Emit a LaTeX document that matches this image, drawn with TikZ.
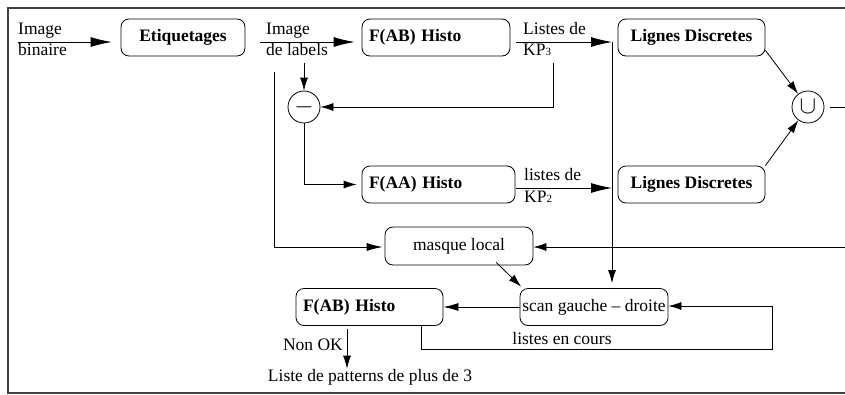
\documentclass[tikz,border=0pt]{standalone}
\usepackage{fontspec}
\setmainfont{Liberation Serif}
\usetikzlibrary{arrows.meta,calc}
\begin{document}
\begin{tikzpicture}[x=1pt,y=-1pt,
  every node/.style={font=\fontsize{17.5}{20}\selectfont},
  box/.style={draw, rounded corners=8pt, minimum height=37pt, inner ysep=0pt, line width=0.8pt},
  bbox/.style={box, font=\fontsize{17.5}{20}\selectfont\bfseries},
  lbox/.style={bbox, text width=#1, inner xsep=7pt, align=left},
  lab/.style={inner sep=0pt},
  circ/.style={draw, circle, minimum size=32pt, inner sep=0pt, line width=0.8pt, font=\fontsize{26}{26}\selectfont},
  line/.style={line width=0.8pt},
  arr/.style={line, -{Latex[length=13pt,width=8pt]}},
  bigarr/.style={line, -{Latex[length=21pt,width=10pt]}}
]
\useasboundingbox (0,0) rectangle (845,394);
\clip (0,0) rectangle (845,394);
\draw[black!75, line width=1.1pt] (8,8) rectangle (880,393);

% boxes
\node[bbox, minimum width=124pt] (etiq) at (183,37.5) {Etiquetages};
\node[lbox=134pt] (fab1) at (436,37.5) {F(AB) Histo};
\node[bbox, minimum width=147pt] (lig1) at (691.5,37.5) {Lignes Discretes};
\node[lbox=139pt] (faa) at (438.5,184.5) {F(AA) Histo};
\node[bbox, minimum width=147pt] (lig2) at (691.5,184.5) {Lignes Discretes};
\node[box, minimum width=148pt, minimum height=38pt] (masque) at (459,246) {masque local};
\node[box, minimum width=148pt, inner xsep=1pt] (scan) at (594,307) {scan gauche -- droite};
\node[lbox=133pt] (fab2) at (369.5,307) {F(AB) Histo};
\node[circ] (minus) at (304,107) {$-$};
\node[circ] (uni) at (808,107) {$\cup$};

% labels
\node[lab, anchor=base west] (t1a) at (18,34) {Image};
\node[lab, anchor=base west] (t1b) at (18,55) {binaire};
\node[lab, anchor=base west] (t2a) at (266,34) {Image};
\node[lab, anchor=base west] (t2b) at (266,55) {de labels};
\node[lab, anchor=base west] (t3a) at (523,34) {Listes de};
\node[lab, anchor=base west] (t3b) at (523,55) {KP{\fontsize{11}{11}\selectfont 3}};
\node[lab, anchor=base west] (t4a) at (524,180) {listes de};
\node[lab, anchor=base west] (t4b) at (524,202) {KP{\fontsize{11}{11}\selectfont 2}};
\node[lab, anchor=base] (t5) at (562,344) {listes en cours};
\node[lab, anchor=base east] (nok) at (343,350) {Non OK};
\node[lab, anchor=base] (res) at (370,381) {Liste de patterns de plus de 3};

% coordinates
\coordinate (c1) at (18,42);
\coordinate (c2) at (260,42);
\coordinate (c3) at (516,42);
\coordinate (j1) at (612,42);
\coordinate (c4) at (304,63);
\coordinate (c5) at (553,63);
\coordinate (c7) at (516,188);
\coordinate (j2) at (612,188);
\coordinate (c8) at (274,72);
\coordinate (c9) at (850,247);
\coordinate (lp1) at (421,349);
\coordinate (lp2) at (772,349);
\coordinate (n1) at (347,329);
\coordinate (u1) at (845,107);

% connectors
\draw[bigarr, shorten >=9pt] (c1) -- (c1 -| etiq.west);
\draw[bigarr, shorten >=7pt] (c2) -- (c2 -| fab1.west);
\draw[bigarr] (c3) -- (j1);
\draw[arr, shorten >=5pt] (j1) -- (j1 |- scan.north);
\draw[arr] (c4) -- (minus.north);
\draw[arr] (c5) |- (minus.east);
\draw[arr, shorten >=5pt] (minus.south) |- (faa.west);
\draw[bigarr] (c7) -- (j2);
\draw[arr, -{Latex[length=16pt,width=8pt]}, shorten >=2pt] (c8) |- ($(masque.west)+(0,1)$);
\draw[arr] (c9) -- ($(masque.east)+(0,1)$);
\draw[arr, shorten >=2pt] ($(masque.south)!0.5!(masque.south east)+(0,-3)$) -- ($(scan.north west)+(3,0)$);
\draw[arr, -{Latex[length=15pt,width=8pt]}] (scan.west) -- (fab2.east);
\draw[arr] (fab2.south -| lp1) -- (lp1) -- (lp2) |- ($(scan.east)+(0,-1)$);
\draw[arr] (n1) -- (n1 |- res.north);
\draw[arr] ($(lig1.south east)+(0,-6)$) -- (uni);
\draw[arr] (lig2.north east) -- (uni);
\draw[line] ([xshift=6pt]uni.east) -- (u1);
\end{tikzpicture}
\end{document}
